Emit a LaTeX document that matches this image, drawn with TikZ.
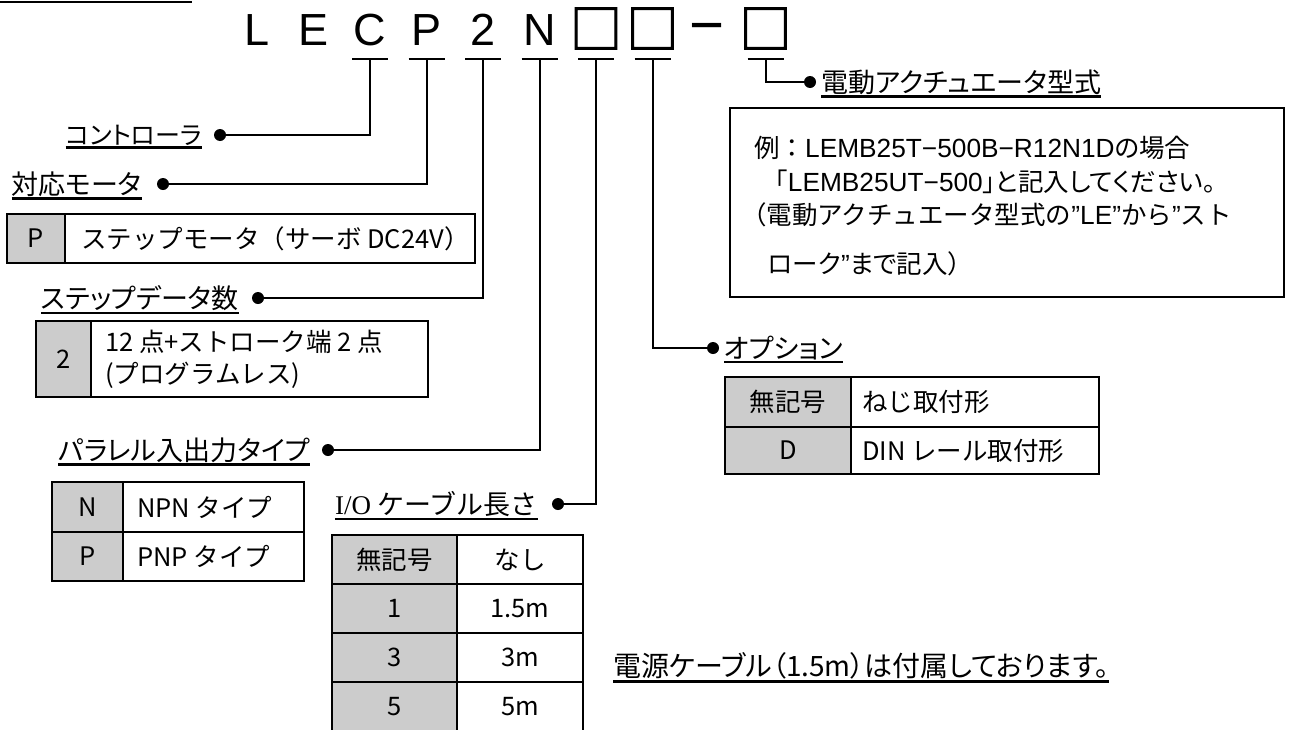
\documentclass[tikz,border=0pt]{standalone}
\usepackage{fontspec}
\usepackage{tikz}
\usetikzlibrary{positioning}
\setmainfont{Noto Sans CJK JP}[RawFeature=+palt]
\newfontfamily\fixedjp{Noto Sans CJK JP}
\newfontfamily\boxfont{Noto Sans CJK JP}[FakeBold=2]
\newfontfamily\arialfont{Liberation Sans}
\newfontfamily\latinfont{Liberation Sans}[Scale=1.03]
\newfontfamily\seriffont{Liberation Serif}
\newcommand{\lat}[1]{{\latinfont #1}}
\newcommand{\headfont}{\fontsize{27pt}{32pt}\selectfont}
\newcommand{\cellfont}{\fixedjp\fontsize{25.5pt}{32pt}\selectfont}
\newcommand{\notefont}{\fontsize{25.5pt}{30pt}\selectfont}

\begin{document}
\begin{tikzpicture}[x=1pt, y=-1pt]
	\tikzstyle{model_char} = [font=\arialfont\fontsize{45pt}{45pt}\selectfont, anchor=base, inner sep=0pt]
	\tikzstyle{model_box} = [font=\boxfont\fontsize{52pt}{52pt}\selectfont, inner sep=0pt]
	\tikzstyle{conn} = [line width=2pt]
	\tikzstyle{dot_node} = [circle, fill, inner sep=0pt, minimum size=12pt]
	\tikzstyle{label_node} = [font=\headfont, inner xsep=0pt, inner ysep=2pt]
	\tikzstyle{uline} = [line width=2.5pt]
	\tikzstyle{key_cell} = [rectangle, draw, fill=black!20, line width=2.5pt, inner sep=0pt, outer sep=0pt, font=\cellfont]
	\tikzstyle{val_cell} = [rectangle, draw, line width=2.5pt, inner sep=0pt, outer sep=0pt, font=\cellfont]
	\tikzstyle{cell_text} = [font=\cellfont, inner sep=0pt, anchor=west, align=left]
	\tikzstyle{note_text} = [font=\notefont, inner sep=0pt, anchor=west]

	\useasboundingbox (0,0) rectangle (1290,731);
	\clip (0,0) rectangle (1290,729.5);
	\draw[line width=2.5pt] (0,2) -- (192,2);

	% Model code
	\foreach \ch/\nm/\xx in {L/L/257, E/E/313.5, C/C/370, P/P/426.5, 2/2/483, N/N/539.5}
		\node[model_char] (m\nm) at (\xx,45) {\ch};
	\foreach \nm/\xx in {B1/596, B2/652.5, B3/765.5}
		\node[model_box] (m\nm) at (\xx,28.5) {□};
	\node[model_char, font=\arialfont\fontsize{60pt}{60pt}\selectfont] (mD) at (707,45) {−};
	% Ticks under the code
	\foreach \nm in {C,P,2,N,B1,B2,B3} {
		\coordinate (t\nm) at (m\nm |- 0,59);
		\draw[conn] ([xshift=-18pt]t\nm) -- ([xshift=18pt]t\nm);
	}

	% Dots
	\node[dot_node] (dC) at (220,135) {};
	\node[dot_node] (dP) at (163,184) {};
	\node[dot_node] (d2) at (258,298) {};
	\node[dot_node] (dN) at (328,450) {};
	\node[dot_node] (dB1) at (558,504) {};
	\node[dot_node] (dB2) at (713,348) {};
	\node[dot_node] (dB3) at (810,82) {};
	\foreach \nm in {C,P,2,N,B1,B2,B3}
		\draw[conn] (t\nm) |- (d\nm);

	% Labels
	\node[label_node, font=\fontsize{25pt}{30pt}\selectfont, left=12pt of dC] (lC) {コントローラ};
	\node[label_node, left=15pt of dP] (lP) {対応モータ};
	\node[label_node, left=13pt of d2] (l2) {ステップデータ数};
	\node[label_node, left=12pt of dN] (lN) {パラレル入出力タイプ};
	\node[label_node, font=\fixedjp\headfont, left=14pt of dB1] (lB1) {{\seriffont I/O} ケーブル長さ};
	\node[label_node, right=5pt of dB2] (lB2) {オプション};
	\node[label_node, right=5pt of dB3] (lB3) {電動アクチュエータ型式};
	\node[label_node, font=\fontsize{28pt}{32pt}\selectfont, anchor=west] (lPow) at (613,666) {電源ケーブル（1.5m）は付属しております。};
	\foreach \nm in {C,P,2,N,B1,B2,B3,Pow}
		\draw[uline] (l\nm.south west) -- (l\nm.south east);

	% Motor table
	\node[key_cell, minimum width=58pt, minimum height=49pt] (kMot) at (36,238.5) {P};
	\node[val_cell, minimum width=410pt, minimum height=49pt, right=0pt of kMot] (vMot) {};
	\node[cell_text, right=16pt of vMot.west] (xMot) {ステップモータ（サーボ DC24V）};

	% Step data table
	\node[key_cell, minimum width=55pt, minimum height=76pt] (kStep) at (63.5,359) {2};
	\node[val_cell, minimum width=337pt, minimum height=76pt, right=0pt of kStep] (vStep) {};
	\node[cell_text, right=14pt of vStep.west] (xStep) {12 点+ストローク端 2 点\\(プログラムレス)};

	% I/O type table
	\node[key_cell, minimum width=71pt, minimum height=50pt] (kNpn) at (87.5,507) {N};
	\node[val_cell, minimum width=181pt, minimum height=50pt, right=0pt of kNpn] (vNpn) {};
	\node[key_cell, minimum width=71pt, minimum height=49pt, below=0pt of kNpn] (kPnp) {P};
	\node[val_cell, minimum width=181pt, minimum height=49pt, right=0pt of kPnp] (vPnp) {};
	\node[cell_text, right=14pt of vNpn.west] (xNpn) {NPN タイプ};
	\node[cell_text, right=14pt of vPnp.west] (xPnp) {PNP タイプ};

	% Cable length table
	\foreach \k/\v [count=\i] in {無記号/なし, 1/1.5m, 3/3m, 5/5m} {
		\node[key_cell, minimum width=125pt, minimum height=49pt] (kIO\i) at (394.5,510.5+49*\i) {\k};
		\node[val_cell, minimum width=126pt, minimum height=49pt, right=0pt of kIO\i] (vIO\i) {\v};
	}

	% Option table
	\node[key_cell, minimum width=126pt, minimum height=50pt] (kOpt1) at (788,402) {無記号};
	\node[val_cell, minimum width=248pt, minimum height=50pt, right=0pt of kOpt1] (vOpt1) {};
	\node[key_cell, minimum width=126pt, minimum height=47pt, below=0pt of kOpt1] (kOpt2) {D};
	\node[val_cell, minimum width=248pt, minimum height=47pt, right=0pt of kOpt2] (vOpt2) {};
	\node[cell_text, right=11pt of vOpt1.west] (xOpt1) {ねじ取付形};
	\node[cell_text, right=11pt of vOpt2.west] (xOpt2) {DIN レール取付形};

	% Example box
	\node[rectangle, draw, line width=2pt, minimum width=554pt, minimum height=189pt] (exBox) at (1007,202.5) {};
	\node[note_text] (ex1) at (754,148) {{\fixedjp 例：}\lat{LEMB25T−500B−R12N1D}の場合};
	\node[note_text] (ex2) at (775,182) {「\lat{LEMB25UT−500}」と記入してください。};
	\node[note_text, font=\fixedjp\notefont] (ex3) at (741,215) {（電動アクチュエータ型式の\lat{”LE”}から\lat{”}スト};
	\node[note_text] (ex4) at (768,264) {ローク\lat{”}まで記入）};
\end{tikzpicture}
\end{document}
